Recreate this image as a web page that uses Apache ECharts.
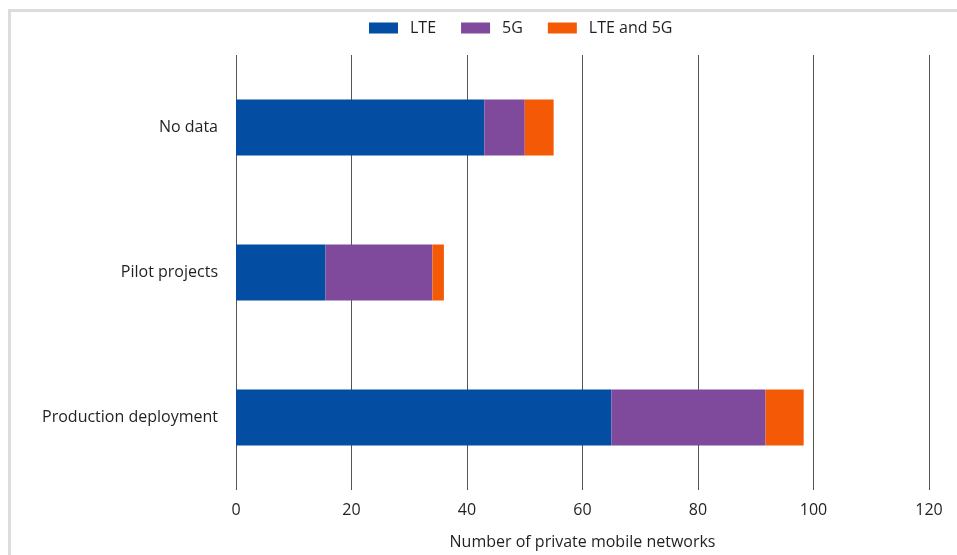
<!DOCTYPE html>
<html>
<head>
<meta charset="utf-8">
<script src="https://cdn.jsdelivr.net/npm/echarts@6/dist/echarts.min.js"></script>
<style>
  html, body { margin: 0; padding: 0; background: #fff; }
  #chart { width: 957px; height: 555px; }
</style>
</head>
<body>
<div id="chart"></div>
<script>
// Deployment status of private mobile networks, by technology
const categories = ['No data', 'Pilot projects', 'Production deployment'];
const lteValues = [43, 15.5, 65];
const fiveGValues = [7, 18.5, 26.7];
const lteAnd5GValues = [5, 2, 6.6];
const xTicks = { min: 0, max: 120, interval: 20 };

const FONT = '"Open Sans", "Noto Sans", sans-serif';
const TEXT = '#231f20';

const chart = echarts.init(document.getElementById('chart'), null, { renderer: 'canvas' });

function barSeries(name, data, color) {
  return {
    name: name,
    type: 'bar',
    stack: 'total',
    data: data,
    barWidth: 56,
    itemStyle: { color: color },
    emphasis: { disabled: true }
  };
}

chart.setOption({
  animation: false,
  textStyle: { fontFamily: FONT },
  graphic: [{
    type: 'rect',
    shape: { x: 9.5, y: 10.5, width: 1000, height: 600 },
    style: { fill: 'none', stroke: '#dcdcdc', lineWidth: 3 },
    silent: true
  }],
  legend: {
    top: 15,
    left: 364,
    itemWidth: 29,
    itemHeight: 11,
    itemGap: 25,
    icon: 'rect',
    textStyle: { fontFamily: FONT, fontSize: 16, color: TEXT, padding: [0, 0, 0, 7] },
    data: ['LTE', '5G', 'LTE and 5G']
  },
  grid: { left: 236, right: 28, top: 55, bottom: 56, containLabel: false },
  xAxis: {
    type: 'value',
    min: xTicks.min,
    max: xTicks.max,
    interval: xTicks.interval,
    name: 'Number of private mobile networks',
    nameLocation: 'middle',
    nameGap: 44,
    nameTextStyle: { fontFamily: FONT, fontSize: 16, color: TEXT },
    axisLine: { show: false },
    axisTick: { show: false },
    axisLabel: { fontFamily: FONT, fontSize: 16, color: TEXT, margin: 12 },
    splitLine: { show: true, lineStyle: { color: '#555', width: 1 } }
  },
  yAxis: {
    type: 'category',
    inverse: true,
    data: categories,
    axisLine: { show: false },
    axisTick: { show: false },
    axisLabel: { fontFamily: FONT, fontSize: 16, color: TEXT, margin: 18 }
  },
  series: [
    barSeries('LTE', lteValues, '#034ea2'),
    barSeries('5G', fiveGValues, '#7f4a9b'),
    barSeries('LTE and 5G', lteAnd5GValues, '#f45a06')
  ]
});
</script>
</body>
</html>
